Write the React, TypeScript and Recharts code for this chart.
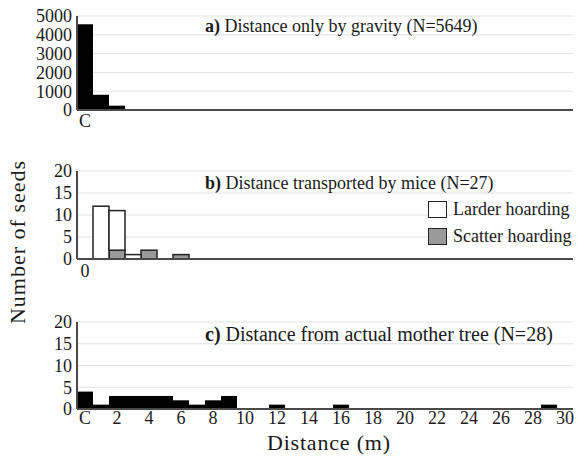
import { BarChart, Bar, XAxis, YAxis, CartesianGrid } from 'recharts'

// distance bins (m); "C" = under the crown
const bins = ['C', '1', '2', '3', '4', '5', '6', '7', '8', '9', '10', '11', '12', '13', '14', '15', '16', '17', '18', '19', '20', '21', '22', '23', '24', '25', '26', '27', '28', '29', '30']

const gravity = [4560, 810, 230, 40, 8, 1, 0, 0, 0, 0, 0, 0, 0, 0, 0, 0, 0, 0, 0, 0, 0, 0, 0, 0, 0, 0, 0, 0, 0, 0, 0]
const larder = [0, 12, 9, 1, 0, 0, 0, 0, 0, 0, 0, 0, 0, 0, 0, 0, 0, 0, 0, 0, 0, 0, 0, 0, 0, 0, 0, 0, 0, 0, 0]
const scatter = [0, 0, 2, 0, 2, 0, 1, 0, 0, 0, 0, 0, 0, 0, 0, 0, 0, 0, 0, 0, 0, 0, 0, 0, 0, 0, 0, 0, 0, 0, 0]
const motherTree = [4, 1, 3, 3, 3, 3, 2, 1, 2, 3, 0, 0, 1, 0, 0, 0, 1, 0, 0, 0, 0, 0, 0, 0, 0, 0, 0, 0, 0, 1, 0]

const ticksA = [0, 1000, 2000, 3000, 4000, 5000]
const ticksSmall = [0, 5, 10, 15, 20]

const FONT = "'Liberation Serif', 'Times New Roman', Times, serif"
const W = 577

const rowsA = bins.map((bin, i) => ({ bin, n: gravity[i] }))
const rowsB = bins.map((bin, i) => ({ bin, larder: larder[i], scatter: scatter[i] }))
const rowsC = bins.map((bin, i) => ({ bin, n: motherTree[i] }))

const tickStyle = { fontSize: 18, fill: '#1a1a1a', fontFamily: FONT }
const axisStroke = { stroke: '#4a4a4a', strokeWidth: 2 }

// skip zero-height rects so outlined bars don't leave a line on the axis
function BinRect(props: any) {
  const { x, y, width, height, fill, stroke, strokeWidth } = props
  if (!height || height <= 0) return <g />
  return <rect x={x} y={y} width={width} height={height} fill={fill} stroke={stroke} strokeWidth={strokeWidth} />
}

function Title({ top, tag, text, size = 18 }: { top: number; tag: string; text: string; size?: number }) {
  return (
    <div style={{ position: 'absolute', left: 205, top, fontFamily: FONT, fontSize: size, lineHeight: '20px', color: '#1a1a1a', whiteSpace: 'nowrap' }}>
      <b>{tag}</b> {text}
    </div>
  )
}

function LegendItem({ top, fill, label }: { top: number; fill: string; label: string }) {
  return (
    <div style={{ position: 'absolute', left: 428, top, display: 'flex', alignItems: 'center', fontFamily: FONT, fontSize: 18, lineHeight: '20px', color: '#1a1a1a', whiteSpace: 'nowrap' }}>
      <span style={{ display: 'inline-block', width: 17, height: 15, background: fill, border: '1.5px solid #222', marginRight: 6 }} />
      {label}
    </div>
  )
}

export default function App() {
  return (
    <div style={{ position: 'absolute', left: 0, top: 0, width: W, height: 458, background: '#fff', overflow: 'hidden' }}>
      {/* a) gravity */}
      <div style={{ position: 'absolute', left: 0, top: 0 }}>
        <BarChart width={W} height={135} data={rowsA} margin={{ top: 16, right: 4, bottom: 0, left: 0 }} barCategoryGap={0}>
          <CartesianGrid vertical={false} stroke="#e2e2e2" />
          <XAxis dataKey="bin" interval={0} tickLine={false} tickSize={4} tickMargin={0} axisLine={axisStroke} height={25} tick={tickStyle}
            tickFormatter={(v) => (v === 'C' ? 'C' : '')} />
          <YAxis domain={[0, 5000]} ticks={ticksA} width={77} tickLine={false} tickSize={3} tickMargin={2} axisLine={axisStroke} tick={tickStyle} interval={0} />
          <Bar dataKey="n" fill="#000" isAnimationActive={false} shape={<BinRect />} />
        </BarChart>
      </div>

      {/* b) mice */}
      <div style={{ position: 'absolute', left: 0, top: 140 }}>
        <BarChart width={W} height={150} data={rowsB} margin={{ top: 31, right: 4, bottom: 0, left: 0 }} barCategoryGap={0}>
          <CartesianGrid vertical={false} stroke="#e2e2e2" />
          <XAxis dataKey="bin" interval={0} tickLine={false} tickSize={5} tickMargin={0} axisLine={axisStroke} height={31} tick={tickStyle}
            tickFormatter={(v) => (v === 'C' ? '0' : '')} />
          <YAxis domain={[0, 20]} ticks={ticksSmall} width={77} tickLine={false} tickSize={3} tickMargin={2} axisLine={axisStroke} tick={tickStyle} interval={0} />
          <Bar dataKey="scatter" stackId="m" fill="#9a9a9a" stroke="#222" strokeWidth={1.5} isAnimationActive={false} shape={<BinRect />} />
          <Bar dataKey="larder" stackId="m" fill="#fff" stroke="#222" strokeWidth={1.5} isAnimationActive={false} shape={<BinRect />} />
        </BarChart>
      </div>

      {/* c) mother tree */}
      <div style={{ position: 'absolute', left: 0, top: 290 }}>
        <BarChart width={W} height={144} data={rowsC} margin={{ top: 32, right: 4, bottom: 0, left: 0 }} barCategoryGap={0}>
          <CartesianGrid vertical={false} stroke="#e2e2e2" />
          <XAxis dataKey="bin" interval={1} tickLine={false} tickSize={2} tickMargin={0} axisLine={axisStroke} height={25} tick={tickStyle} />
          <YAxis domain={[0, 20]} ticks={ticksSmall} width={77} tickLine={false} tickSize={3} tickMargin={2} axisLine={axisStroke} tick={tickStyle} interval={0} />
          <Bar dataKey="n" fill="#000" isAnimationActive={false} shape={<BinRect />} />
        </BarChart>
      </div>

      <Title top={16} tag="a)" text="Distance only by gravity (N=5649)" />
      <Title top={173} tag="b)" text="Distance transported by mice (N=27)" />
      <Title top={324} tag="c)" text="Distance from actual mother tree (N=28)" size={20} />

      <LegendItem top={199} fill="#fff" label="Larder hoarding" />
      <LegendItem top={226} fill="#9a9a9a" label="Scatter hoarding" />

      <div style={{ position: 'absolute', left: 267, top: 432, lineHeight: '21px', fontFamily: FONT, fontSize: 22, letterSpacing: 0.8, color: '#1a1a1a', whiteSpace: 'nowrap' }}>
        Distance (m)
      </div>
      <div style={{ position: 'absolute', left: 18, top: 242, transform: 'translate(-50%, -50%) rotate(-90deg)', fontFamily: FONT, fontSize: 22, letterSpacing: 1, lineHeight: '22px', color: '#1a1a1a', whiteSpace: 'nowrap' }}>
        Number of seeds
      </div>
    </div>
  )
}
